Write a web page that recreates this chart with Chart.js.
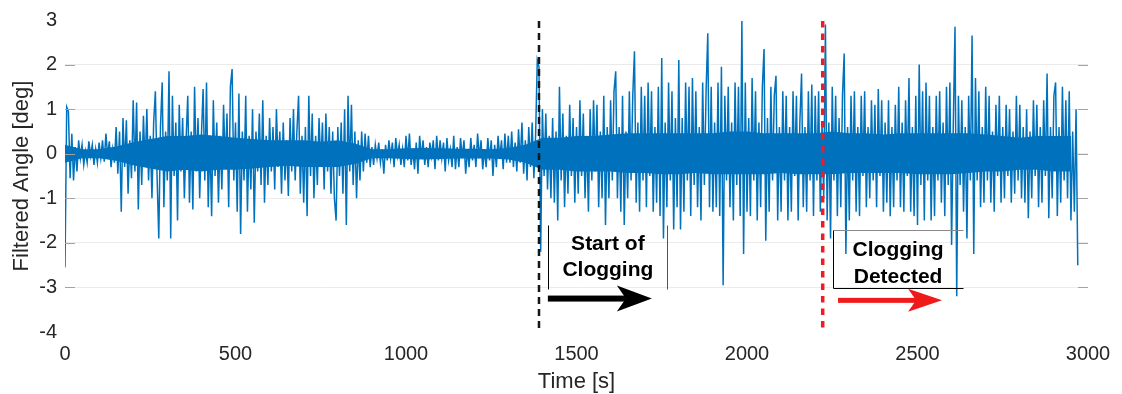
<!DOCTYPE html>
<html lang="en">
<head>
  <meta charset="UTF-8" />
  <title>Filtered Angle</title>
  <script src="https://cdn.jsdelivr.net/npm/chart.js"></script>
  <style>
    html, body { margin: 0; padding: 0; background: #fff; }
    #wrap { width: 1122px; height: 394px; position: relative; }
  </style>
</head>
<body>
  <div id="wrap"><canvas id="angleChart"></canvas></div>

  <script>
    // Filtered angle [deg], one reading every 5 s
    const sampleStep = 5;
    const angle = [
      // 0 - 95 s
      -2.55, 1.05, 0.95, -0.55, 0.45, -0.6, 0.15, -0.4, 0.3, -0.1, 0.2, -0.25, 0.05, -0.2, 0.28, -0.05, 0.2, -0.25, 0.1, -0.2,
      // 100 s
      0.25, -0.1, 0.3, -0.18, 0.45, -0.05, 0.28, -0.3, 0.1, -0.2, 0.6, -0.45, 0.5, -1.3, 0.8, -0.3, 0.75, -0.9, 0.3, -0.55,
      // 200 s
      1.2, -0.4, 1.15, -1.25, 0.5, -0.7, 0.85, -0.3, 1.0, -0.6, 0.4, -1.0, 0.7, 1.4, -0.5, -1.9, 0.6, 1.6, -1.2, 0.5,
      // 300 s
      -0.6, 1.85, -1.9, 1.3, -0.5, 0.7, -1.5, 1.1, -0.4, 0.8, -1.0, 0.3, 1.3, -1.1, 0.5, -1.25, 1.5, -0.4, 0.8, -1.0,
      // 400 s
      0.4, 1.45, -0.6, 1.6, -1.2, 0.3, -1.4, 1.2, -0.5, 0.7, -1.1, 0.4, -0.8, 1.1, -0.3, 0.9, -1.2, 1.5, 1.9, -0.6,
      // 500 s
      0.7, -1.3, 1.35, -1.8, 0.5, -0.6, 1.3, -1.3, 0.4, -0.8, 1.0, -1.55, 0.5, -0.4, 0.9, -0.7, 1.2, -1.1, 0.4, -0.7,
      // 600 s
      0.8, -0.4, 0.6, -0.8, 1.0, -0.3, 0.5, -0.9, 0.7, -0.6, 0.3, -0.95, 0.8, -0.4, 1.0, -0.6, 0.5, 1.3, -0.9, 0.4,
      // 700 s
      -1.1, 0.6, -1.4, 1.3, -0.5, 0.9, -1.0, 0.4, -0.7, 0.8, -0.3, 0.7, -0.8, 0.9, -0.4, 0.6, -0.9, 0.5, -1.0, -1.5,
      // 800 s
      0.6, -0.5, 0.7, -0.9, 1.0, -1.6, 1.3, -0.4, 1.1, -0.7, 0.5, -1.0, 0.3, -0.6, 0.5, -0.4, 0.45, -0.2, 0.4, -0.3,
      // 900 s
      0.15, -0.25, 0.2, -0.1, 0.25, -0.2, 0.1, -0.45, 0.2, -0.15, 0.3, -0.1, 0.25, -0.3, 0.35, -0.05, 0.2, -0.25, 0.1, -0.3,
      // 1000 s
      0.4, -0.15, 0.45, -0.25, 0.1, -0.35, 0.25, -0.45, 0.4, -0.1, 0.3, -0.25, 0.15, -0.3, 0.25, -0.05, 0.3, -0.35, 0.4, -0.15,
      // 1100 s
      0.3, -0.1, 0.25, -0.4, 0.35, -0.15, 0.1, -0.3, 0.4, -0.35, 0.15, -0.3, 0.35, -0.1, 0.3, -0.45, 0.1, -0.3, 0.35, -0.15,
      // 1200 s
      0.2, -0.3, 0.45, -0.1, 0.3, -0.35, 0.1, -0.3, 0.35, -0.15, 0.3, -0.5, 0.2, -0.3, 0.4, -0.1, 0.3, -0.35, 0.45, -0.2,
      // 1300 s
      0.4, -0.2, 0.5, -0.3, 0.25, -0.4, 0.55, -0.2, 0.7, -0.45, 0.3, -0.6, 0.6, -0.3, 0.7, -0.55, 0.4, 2.1, 1.95, -2.2,
      // 1400 s
      1.0, -0.5, 0.9, -0.8, 0.4, -1.0, 0.8, -1.1, 0.5, -1.5, 1.5, -0.6, 0.9, -1.2, 0.4, -0.9, 1.1, -0.5, 0.8, -1.1,
      // 1500 s
      0.6, -0.9, 1.2, -0.5, 0.9, -1.0, 0.4, -1.3, 1.0, -0.6, 1.2, -0.4, 1.1, -1.2, 0.5, -1.0, 1.3, -1.6, 0.6, -1.0,
      // 1600 s
      1.2, -0.6, 1.4, 1.85, -1.0, 0.6, -1.3, 1.3, -1.6, 0.5, -1.0, 1.4, -0.6, 1.3, 2.3, -1.1, 0.7, -1.3, 1.5, -0.6,
      // 1700 s
      1.3, -1.2, 1.6, -0.5, 1.4, -1.3, 0.6, -1.1, 1.5, -1.4, 2.15, -1.9, 0.7, -1.2, 1.6, -0.6, 1.4, -1.7, 0.8, -1.2,
      // 1800 s
      2.1, -1.7, 0.8, -1.3, 1.6, -0.6, 1.5, -1.4, 1.7, -0.7, 1.4, -1.2, 0.6, -1.5, 1.6, -0.7, 1.4, 2.7, -1.2, 1.5,
      // 1900 s
      -1.3, 0.7, -1.2, 1.6, -1.4, 1.95, -2.95, 1.3, -0.6, 1.5, -1.2, 0.7, -1.5, 1.6, -0.7, 1.5, -1.4, 2.98, -2.25, 1.6,
      // 2000 s
      -1.3, 0.8, -1.4, 1.7, -0.6, 1.4, -1.5, 0.7, -1.2, 1.5, 2.35, -1.95, 0.8, -1.3, 1.5, -0.6, 1.3, 1.75, -1.5, 0.6,
      // 2100 s
      -1.3, 1.4, -0.6, 1.3, -1.5, 0.6, -1.3, 1.4, -0.5, 1.3, -1.5, 0.7, 1.8, -1.2, 0.6, -1.3, 1.4, -0.6, 1.55, -1.4,
      // 2200 s
      1.3, -0.6, 1.4, -1.3, 0.7, -1.0, 2.9, -1.5, 0.7, -1.9, 1.5, -0.6, 1.3, -1.4, 0.8, -1.2, 1.3, 2.25, -2.25, 0.6,
      // 2300 s
      -1.5, 1.3, -0.6, 1.4, -1.3, 0.6, -1.4, 1.3, -0.5, 1.4, -1.2, 0.6, -1.0, 1.2, -0.6, 1.1, -1.2, 1.45, -0.5, 1.2,
      // 2400 s
      -1.3, 0.7, -1.1, 1.2, -1.4, 0.6, -1.2, 1.1, -0.6, 1.5, -1.2, 0.7, -1.3, 1.2, -0.5, 1.7, -1.3, 0.6, -1.4, 1.3,
      // 2500 s
      -1.6, 2.0, -0.7, 1.4, -1.5, 1.6, -0.6, 1.3, -1.5, 0.6, -1.4, 1.3, -0.6, 1.4, -1.1, 0.7, -1.4, 1.5, -0.7, 1.6,
      // 2600 s
      -2.05, 0.7, 2.85, -3.2, 1.3, -0.7, 1.2, -1.3, 0.6, -1.9, 1.3, -0.6, 2.65, -2.25, 1.7, -0.6, 1.4, -1.2, 0.6, -1.1,
      // 2700 s
      1.5, -0.6, 1.3, -1.1, 0.5, -1.3, 1.1, -0.5, 1.3, -1.1, 0.6, -1.0, 1.1, -0.5, 1.0, -1.1, 0.5, -0.9, 1.3, -0.6,
      // 2800 s
      1.1, -1.0, 0.6, -1.1, 1.0, -1.45, 0.5, -1.0, 1.2, -0.5, 1.1, -1.2, 0.6, -1.1, 1.2, -0.5, 1.8, -1.45, 0.6, -1.0,
      // 2900 - 2970 s
      1.3, 1.6, -1.4, 0.6, -1.1, 1.5, -0.6, 1.2, -1.0, 1.4, -1.5, 0.5, -1.3, 1.0, -2.5
    ];

    // dense core of the trace (solid band), every 50 s from 0 to 2950 s
    const coreStep = 50;
    const coreHigh = [
      0.2, 0.1, 0.1, 0.16, 0.26, 0.33, 0.4, 0.4, 0.43, 0.4,
      0.36, 0.33, 0.3, 0.3, 0.3, 0.27, 0.3, 0.23, 0.1, 0.1,
      0.12, 0.13, 0.12, 0.11, 0.11, 0.1, 0.13, 0.2, 0.36, 0.36,
      0.4, 0.4, 0.43, 0.46, 0.46, 0.46, 0.46, 0.46, 0.46, 0.5,
      0.5, 0.46, 0.46, 0.46, 0.46, 0.5, 0.46, 0.46, 0.43, 0.46,
      0.46, 0.46, 0.46, 0.46, 0.43, 0.4, 0.36, 0.4, 0.4, 0.4
    ];
    const coreLow = [
      -0.2, -0.1, -0.1, -0.16, -0.26, -0.33, -0.4, -0.36, -0.4, -0.36,
      -0.36, -0.33, -0.3, -0.27, -0.3, -0.3, -0.3, -0.23, -0.1, -0.1,
      -0.12, -0.13, -0.12, -0.11, -0.11, -0.11, -0.13, -0.2, -0.36, -0.36,
      -0.4, -0.4, -0.4, -0.43, -0.43, -0.46, -0.46, -0.43, -0.46, -0.46,
      -0.46, -0.46, -0.43, -0.46, -0.46, -0.46, -0.43, -0.43, -0.43, -0.43,
      -0.46, -0.46, -0.46, -0.43, -0.4, -0.4, -0.36, -0.36, -0.4, -0.4
    ];

    const xTicks = [0, 500, 1000, 1500, 2000, 2500, 3000];
    const yTicks = [-4, -3, -2, -1, 0, 1, 2, 3];

    const startOfClogging = 1390;   // s
    const cloggingDetected = 2222;  // s

    const FONT = '"Liberation Sans", Arial, sans-serif';
    const INK = '#262626';
    const BLUE = '#0072bd';

    // dashed markers, brackets, arrows and labels
    const overlay = {
      id: 'overlay',
      afterDatasetsDraw(chart) {
        const { ctx, chartArea: a, scales: { x, y } } = chart;
        ctx.save();

        // MATLAB style inner ticks on left and right
        ctx.strokeStyle = '#a3a3a3';
        ctx.lineWidth = 1;
        yTicks.slice(1, -1).forEach(v => {
          const py = Math.round(y.getPixelForValue(v)) + 0.5;
          ctx.beginPath();
          ctx.moveTo(a.left, py); ctx.lineTo(a.left + 10, py);
          ctx.moveTo(a.right - 10, py); ctx.lineTo(a.right, py);
          ctx.stroke();
        });

        const vline = (t, color, width, dash) => {
          const px = x.getPixelForValue(t);
          ctx.strokeStyle = color;
          ctx.lineWidth = width;
          ctx.setLineDash(dash);
          ctx.beginPath();
          ctx.moveTo(px, a.top + 1);
          ctx.lineTo(px, a.bottom + 1);
          ctx.stroke();
          ctx.setLineDash([]);
        };
        vline(startOfClogging, '#151515', 2.5, [7, 5]);
        vline(cloggingDetected, '#ee1c24', 3.5, [6.5, 6]);

        const seg = (x1, y1, x2, y2, color) => {
          ctx.strokeStyle = color;
          ctx.lineWidth = 1;
          ctx.beginPath();
          ctx.moveTo(Math.round(x.getPixelForValue(x1)) + 0.5, Math.round(y.getPixelForValue(y1)) + 0.5);
          ctx.lineTo(Math.round(x.getPixelForValue(x2)) + 0.5, Math.round(y.getPixelForValue(y2)) + 0.5);
          ctx.stroke();
        };

        const arrow = (t1, t2, v, color, shaft, headLen, headHalf, notch) => {
          const x1 = x.getPixelForValue(t1), x2 = x.getPixelForValue(t2), py = y.getPixelForValue(v);
          ctx.fillStyle = color;
          ctx.fillRect(x1, py - shaft / 2, (x2 - headLen + notch) - x1, shaft);
          ctx.beginPath();
          ctx.moveTo(x2, py);
          ctx.lineTo(x2 - headLen, py - headHalf);
          ctx.lineTo(x2 - headLen + notch, py);
          ctx.lineTo(x2 - headLen, py + headHalf);
          ctx.closePath();
          ctx.fill();
        };

        const label = (lines, t, vals) => {
          ctx.fillStyle = '#000';
          ctx.font = 'bold 21px ' + FONT;
          ctx.textAlign = 'center';
          ctx.textBaseline = 'alphabetic';
          lines.forEach((s, i) => ctx.fillText(s, x.getPixelForValue(t), y.getPixelForValue(vals[i])));
        };

        // Start of clogging
        seg(1416, -1.61, 1416, -3.04, '#000');
        seg(1765, -1.61, 1765, -3.04, '#555');
        label(['Start of', 'Clogging'], 1592, [-2.17, -2.75]);
        arrow(1416, 1721, -3.25, '#000', 6, 35, 13, 9);

        // Clogging detected
        seg(2252, -1.72, 2633, -1.72, '#8a8a8a');
        seg(2252, -1.72, 2252, -3.02, '#000');
        seg(2252, -3.02, 2633, -3.02, '#000');
        label(['Clogging', 'Detected'], 2443, [-2.30, -2.91]);
        arrow(2267, 2572, -3.29, '#f01a1a', 5, 34, 11.5, 8);

        ctx.restore();
      }
    };

    new Chart(document.getElementById('angleChart'), {
      type: 'line',
      data: {
        datasets: [
          {
            data: angle.map((v, i) => ({ x: i * sampleStep, y: v })),
            borderColor: BLUE,
            borderWidth: 1.5,
            pointRadius: 0,
            tension: 0,
            fill: false,
            order: 0
          },
          {
            data: coreHigh.map((v, i) => ({ x: i * coreStep, y: v })),
            borderWidth: 0,
            pointRadius: 0,
            fill: false,
            order: 1
          },
          {
            data: coreLow.map((v, i) => ({ x: i * coreStep, y: v })),
            borderWidth: 0,
            backgroundColor: BLUE,
            pointRadius: 0,
            fill: 1,
            order: 2
          }
        ]
      },
      options: {
        responsive: true,
        maintainAspectRatio: false,
        devicePixelRatio: 1,
        animation: false,
        events: [],
        layout: { padding: { top: 19, right: 34, left: 0, bottom: 0 } },
        plugins: { legend: { display: false }, tooltip: { enabled: false } },
        scales: {
          x: {
            type: 'linear',
            min: 0, max: 3000,
            afterBuildTicks: s => { s.ticks = xTicks.map(v => ({ value: v })); },
            afterFit: s => { s.height = 62; },
            grid: { display: false, drawTicks: false },
            border: { display: false },
            ticks: { color: INK, font: { family: FONT, size: 20 }, padding: 10, maxRotation: 0, autoSkip: false, callback: v => String(v) },
            title: { display: true, text: 'Time [s]', color: INK, font: { family: FONT, size: 22, lineHeight: 1 }, padding: { top: 0, bottom: 1 } }
          },
          y: {
            min: -4, max: 3,
            afterBuildTicks: s => { s.ticks = yTicks.map(v => ({ value: v })); },
            afterFit: s => { s.width = 65; },
            grid: {
              drawTicks: false,
              lineWidth: 1,
              color: c => (c.tick && (c.tick.value === 3 || c.tick.value === -4)) ? 'rgba(0,0,0,0)' : '#ebebeb'
            },
            border: { display: false },
            ticks: { color: INK, font: { family: FONT, size: 20 }, padding: 8, callback: v => String(v) },
            title: { display: true, text: 'Filtered Angle [deg]', color: INK, font: { family: FONT, size: 22, lineHeight: 1 }, padding: { top: 11, bottom: 0 } }
          }
        }
      },
      plugins: [overlay]
    });
  </script>
</body>
</html>
